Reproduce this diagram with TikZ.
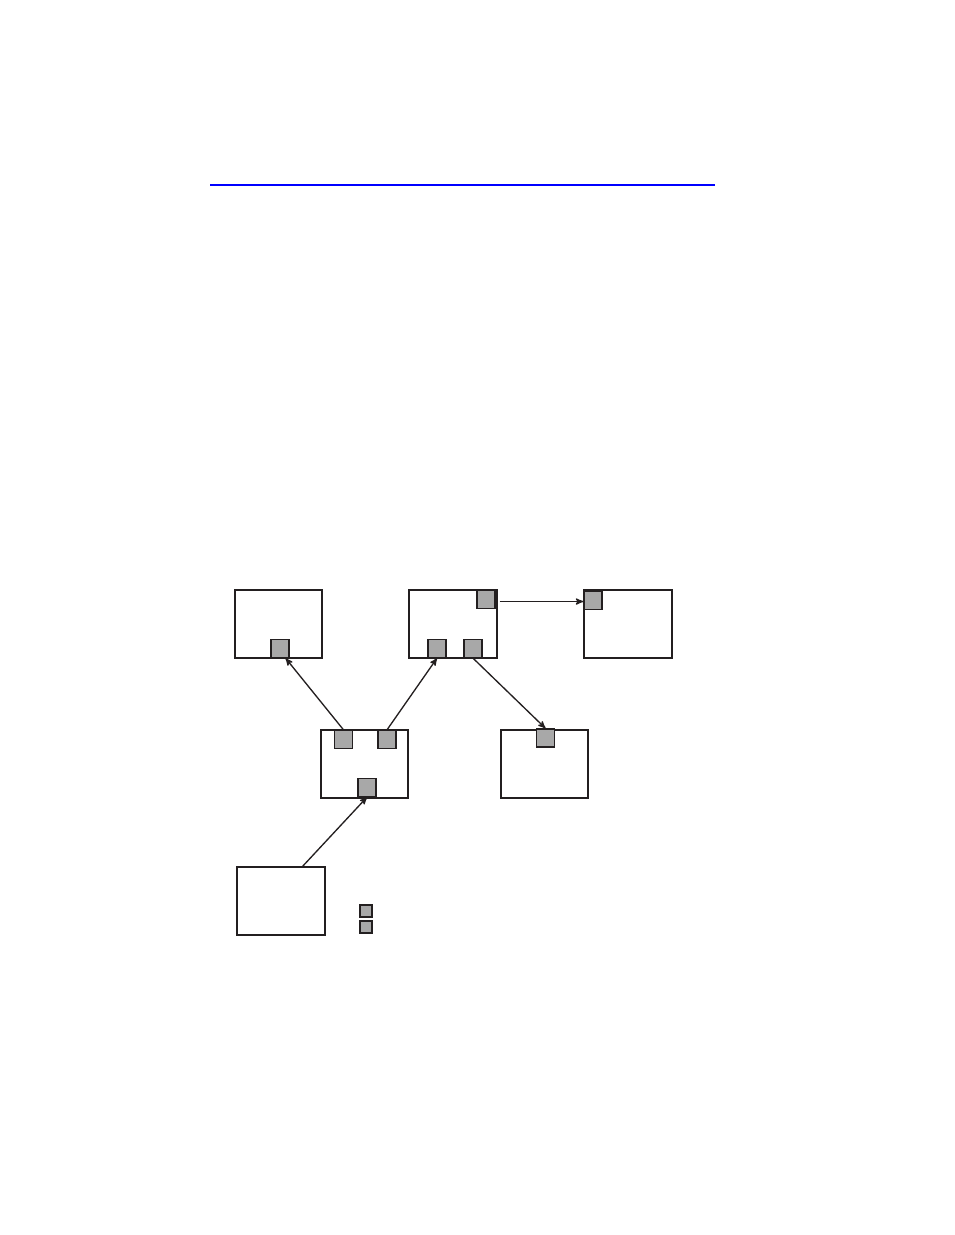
\documentclass[tikz,border=0pt]{standalone}
\usepackage{tikz}
\usetikzlibrary{shapes}
\usetikzlibrary{positioning}
\usetikzlibrary{arrows}
\definecolor{portgray}{HTML}{A8A8A8}
\definecolor{inkdark}{HTML}{231F20}
\tikzset{every edge/.style={ % Sets the properties for each link
    draw,
    ->,>=stealth',
    line width=1pt,
    inkdark}}
\begin{document}
\begin{tikzpicture}[
            x=0.75pt, y=-0.75pt,
            unit/.style={rectangle, draw=inkdark, line width=1.3pt, inner sep=0pt, minimum width=65.5pt, minimum height=51pt},
            port/.style={rectangle, draw=inkdark, line width=1pt, fill=portgray, inner sep=0pt, minimum size=13.5pt},
            keyport/.style={rectangle, draw=inkdark, line width=0.8pt, fill=portgray, inner sep=0pt, minimum size=9pt}
        ]
        \useasboundingbox (0,0) rectangle (954,1235);

        % Rule at the top
        \draw[blue, line width=1.2pt] (210,185) -- (715,185);

        % Units
        \node[unit] (ua) at (278.5,624) {};
        \node[unit] (ub) at (453,624) {};
        \node[unit] (uc) at (628,624) {};
        \node[unit] (ud) at (364.5,764) {};
        \node[unit] (ue) at (544.5,764) {};
        \node[unit] (uf) at (281,901) {};

        % Ports on the units
        \node[port] (pa) at (280,648.5) {};
        \node[port] (pb1) at (486,599.5) {};
        \node[port] (pb2) at (437,648.5) {};
        \node[port] (pb3) at (473,648.5) {};
        \node[port] (pc) at (593,600.5) {};
        \node[port] (pd1) at (343.5,739.5) {};
        \node[port] (pd2) at (387,739.5) {};
        \node[port] (pd3) at (367,787.5) {};
        \node[port] (pe) at (545.5,738) {};

        % Key
        \node[keyport] (k1) at (366,911) {};
        \node[keyport] (k2) at (366,927) {};

        % Links between units
        \draw (uf.58) edge (pd3.south);
        \draw (pd1.north) edge (pa.-60);
        \draw (pd2.north) edge (pb2.south);
        \draw (pb3.south) edge (pe.north);
        \draw ([yshift=-1.5pt]pb1.east) edge[shorten <=3pt] ([yshift=-1.5pt]pb1.east -| pc.west);

    \end{tikzpicture}
\end{document}
